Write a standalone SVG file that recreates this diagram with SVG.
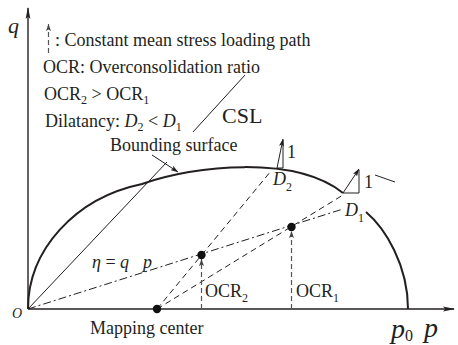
<svg xmlns="http://www.w3.org/2000/svg" width="458" height="345" viewBox="0 0 458 345" font-family="'Liberation Serif', 'Times New Roman', 'DejaVu Serif', serif">
<defs>
<style>
text{font-family:'Liberation Serif','Times New Roman','DejaVu Serif',serif;fill:#231f20;font-size:18px}
.it{font-style:italic}
.sub{font-size:12px}
.ln{stroke:#231f20;fill:none;stroke-width:1}
.ax{stroke:#231f20;fill:none;stroke-width:1.4}
.bs{stroke:#231f20;fill:none;stroke-width:2}
.dash{stroke:#231f20;fill:none;stroke-width:1;stroke-dasharray:6 4}
.dd{stroke:#231f20;fill:none;stroke-width:1;stroke-dasharray:8 3 2 3}
.vd{stroke:#555;fill:none;stroke-width:1.2;stroke-dasharray:5 3}
.dot{fill:#111}
</style>
<marker id="arr" viewBox="0 0 12 6" refX="11" refY="3" markerWidth="12" markerHeight="6" orient="auto" markerUnits="userSpaceOnUse"><path d="M0,0.6 L12,3 L0,5.4 L2.5,3z" fill="#231f20"/></marker>
<marker id="sarr" viewBox="0 0 8 5" refX="7.5" refY="2.5" markerWidth="8" markerHeight="5" orient="auto" markerUnits="userSpaceOnUse"><path d="M0,0 L8,2.5 L0,5 L1.8,2.5z" fill="#231f20"/></marker>
<marker id="garr" viewBox="0 0 7 5" refX="7" refY="2.5" markerWidth="7" markerHeight="5" orient="auto" markerUnits="userSpaceOnUse"><path d="M0,0 L7,2.5 L0,5 L1.5,2.5z" fill="#444"/></marker>
</defs>

<g id="axes">
<line class="ax" x1="28" y1="309" x2="28" y2="8" marker-end="url(#arr)"/>
<line class="ax" x1="28" y1="309" x2="454" y2="309" marker-end="url(#arr)"/>
<text class="it" x="8" y="33" style="font-size:22px">q</text>
<text class="it" x="12" y="318" style="font-size:14px">O</text>
<text class="it" x="391" y="338" style="font-size:28px">p<tspan dy="3" style="font-size:16px;font-style:normal">0</tspan></text>
<text class="it" x="424" y="337" style="font-size:28px">p</text>
</g>

<g id="legend">
<line class="vd" x1="48.5" y1="53" x2="48.5" y2="24" marker-end="url(#garr)"/>
<text x="55" y="46">: Constant mean stress loading path</text>
<text x="43" y="73">OCR: Overconsolidation ratio</text>
<text x="44" y="100">OCR<tspan class="sub" dy="4">2</tspan><tspan dy="-4"> &gt; OCR</tspan><tspan class="sub" dy="4">1</tspan></text>
<text x="45" y="127">Dilatancy: <tspan class="it">D</tspan><tspan class="sub" dy="4">2</tspan><tspan dy="-4"> &lt; </tspan><tspan class="it">D</tspan><tspan class="sub" dy="4">1</tspan></text>
</g>

<g id="csl">
<line class="ln" x1="245" y1="75" x2="193" y2="132"/>
<line class="ln" x1="167" y1="162" x2="28" y2="309"/>
<text x="222" y="123" style="font-size:22px">CSL</text>
</g>

<g id="bounding-surface">
<path class="bs" d="M28,309 C28,250 75,198 142,184 C195,165 295,155 343,193"/>
<path class="bs" d="M366,212 C385,228 408,265 408,309"/>
<text x="110" y="151">Bounding surface</text>
<line class="ln" x1="152" y1="155" x2="178" y2="172" marker-end="url(#sarr)"/>
</g>

<g id="connectors">
<line class="dd" x1="28" y1="309" x2="343" y2="209"/>
<line class="dash" x1="157" y1="309" x2="271" y2="171"/>
<line class="dash" x1="157" y1="309" x2="343" y2="195"/>
<line class="vd" x1="201.5" y1="309" x2="201.5" y2="259" marker-end="url(#garr)"/>
<line class="vd" x1="291.5" y1="309" x2="291.5" y2="231" marker-end="url(#garr)"/>
</g>

<g id="normal-D2">
<line class="ln" x1="277" y1="168" x2="283" y2="139" marker-end="url(#sarr)"/>
<polyline class="ln" points="283,140 283,168 277,168"/>
<text x="287" y="158">1</text>
<text class="it" x="273" y="185">D<tspan class="sub" dy="6" style="font-style:normal">2</tspan></text>
</g>

<g id="normal-D1">
<line class="ln" x1="343" y1="193" x2="359" y2="169" marker-end="url(#sarr)"/>
<polyline class="ln" points="359,170 359,193 343,193"/>
<text x="364" y="188">1</text>
<line class="ln" x1="375" y1="175" x2="395" y2="182"/>
<text class="it" x="345" y="216">D<tspan class="sub" dy="6" style="font-style:normal">1</tspan></text>
</g>

<g id="mapping-center">
<circle class="dot" cx="157" cy="309" r="4.2"/>
<text x="90" y="334">Mapping center</text>
</g>

<g id="state-OCR2">
<circle class="dot" cx="201.5" cy="255" r="4.2"/>
<text x="205" y="297">OCR<tspan class="sub" dy="5">2</tspan></text>
</g>

<g id="state-OCR1">
<circle class="dot" cx="291.5" cy="227" r="4.2"/>
<text x="296" y="297">OCR<tspan class="sub" dy="5">1</tspan></text>
</g>

<g id="eta-label">
<text x="92" y="268"><tspan class="it">η</tspan> = <tspan class="it">q</tspan><tspan class="it" dx="14">p</tspan></text>
</g>
</svg>
